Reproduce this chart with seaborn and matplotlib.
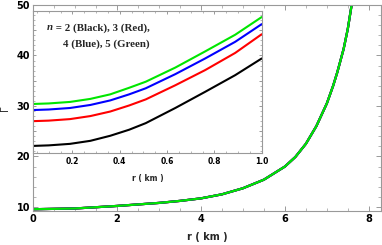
import numpy as np
import pandas as pd
import matplotlib
matplotlib.use('Agg')
import matplotlib.pyplot as plt
from matplotlib.ticker import MultipleLocator
import seaborn as sns

# main curve (all n overlap on this scale)
r_main = [0, 1, 2, 3, 3.5, 4, 4.5, 5, 5.5, 6, 6.25, 6.5, 6.75, 7, 7.15, 7.25, 7.4, 7.5, 7.6]
gamma_main = [9.55, 9.7, 10.2, 10.8, 11.2, 11.7, 12.5, 13.7, 15.4, 18.0, 19.9, 22.5,
              26.0, 30.5, 34.0, 36.7, 41.3, 45.3, 50.5]

# inset, small r
r_in = [0.037, 0.1, 0.19, 0.276, 0.36, 0.44, 0.51, 0.635, 0.761, 0.888, 1.0]
gamma_n2 = [22.1, 22.2, 22.5, 23.1, 24.1, 25.3, 26.6, 29.6, 32.8, 36.1, 39.4]
gamma_n3 = [27.0, 27.1, 27.4, 28.0, 28.9, 30.1, 31.3, 34.1, 37.1, 40.5, 44.2]
gamma_n4 = [29.2, 29.3, 29.6, 30.2, 31.1, 32.3, 33.5, 36.3, 39.4, 42.7, 46.2]
gamma_n5 = [30.4, 30.5, 30.8, 31.4, 32.3, 33.6, 34.8, 37.6, 40.8, 44.1, 47.6]

colors = ['black', '#ff0000', '#0000ff', '#00e600']

sns.set_style('ticks')
plt.rcParams['font.family'] = ['DejaVu Sans']

W, H = 382, 245
fig = plt.figure(figsize=(W / 100, H / 100), dpi=100)

def frame(ax, col='#999999'):
    for s in ax.spines.values():
        s.set_color(col)
        s.set_linewidth(0.8)
    ax.tick_params(which='both', direction='in', top=True, right=True, color=col)
    ax.tick_params(which='major', length=3.5, width=0.7)
    ax.tick_params(which='minor', length=2, width=0.5)

# main axes
ax = fig.add_axes([33 / W, 1 - 211 / H, (381 - 33) / W, (211 - 4.7) / H])
for c in colors:
    sns.lineplot(x=r_main, y=gamma_main, ax=ax, color=c, lw=1.6, sort=False)
ax.set_xlim(0, 8.29)
ax.set_ylim(9.2, 50.05)
ax.xaxis.set_major_locator(MultipleLocator(2))
ax.xaxis.set_minor_locator(MultipleLocator(0.5))
ax.yaxis.set_major_locator(MultipleLocator(10))
ax.yaxis.set_minor_locator(MultipleLocator(2))
frame(ax)
ax.tick_params(labelsize=7, pad=2, labelcolor='black')
for t in ax.get_xticklabels() + ax.get_yticklabels():
    t.set_fontweight('bold')
ax.set_xlabel('r ( km )', fontsize=7, fontweight='bold', labelpad=6)
ax.set_ylabel('Γ', fontsize=7, labelpad=5)

# inset
axi = fig.add_axes([33.3 / W, 1 - 152.7 / H, (261.7 - 33.3) / W, (152.7 - 11) / H])
for g, c in zip([gamma_n2, gamma_n3, gamma_n4, gamma_n5], colors):
    sns.lineplot(x=r_in, y=g, ax=axi, color=c, lw=1.5, sort=False)
axi.set_xlim(0.035, 1.0)
axi.set_ylim(20.75, 48.8)
axi.xaxis.set_major_locator(MultipleLocator(0.2))
axi.xaxis.set_minor_locator(MultipleLocator(0.05))
axi.yaxis.set_major_locator(MultipleLocator(5))
axi.yaxis.set_minor_locator(MultipleLocator(1))
frame(axi)
axi.tick_params(which='major', length=2.5)
axi.tick_params(which='minor', length=1.3)
axi.tick_params(axis='x', labelsize=5.5, pad=3, labelcolor='black')
axi.set_yticklabels([])
for t in axi.get_xticklabels():
    t.set_fontweight('bold')
axi.set_xlabel('r ( km )', fontsize=5.5, fontweight='bold', labelpad=6)
axi.set_ylabel('')
axi.patch.set_facecolor('white')

# annotation
serif = 'Liberation Serif'
t1 = fig.text(150 / W, 1 - 28 / H, ' = 2 (Black), 3 (Red),', fontsize=7.8,
              fontweight='bold', family=serif, ha='right', va='center')
fig.text(150 / W, 1 - 44 / H, '4 (Blue), 5 (Green)', fontsize=7.8,
         fontweight='bold', family=serif, ha='right', va='center')
fig.canvas.draw()
bb = t1.get_window_extent()
fig.text(bb.x0 / W, 1 - 28 / H, 'n', fontsize=7.8, fontweight='bold',
         fontstyle='italic', family=serif, ha='right', va='center')

fig.savefig('out.png', dpi=100)
